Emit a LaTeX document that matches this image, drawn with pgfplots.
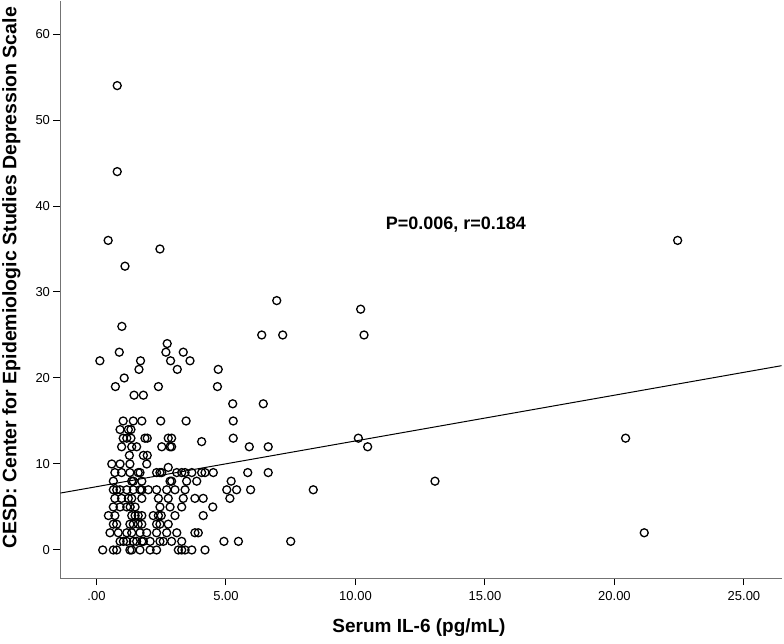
\documentclass[border=0pt]{standalone}
\usepackage{fontspec}
\setmainfont{Liberation Sans}
\usepackage{pgfplots}
\usepackage{pgfplotstable}
\pgfplotsset{compat=1.18}
\pgfplotstableread{
x y
0.80 54
0.80 44
0.45 36
1.10 33
2.45 35
22.44 36
6.96 29
10.20 28
0.98 26
6.38 25
7.19 25
10.33 25
2.73 24
0.88 23
2.68 23
3.35 23
0.13 22
1.70 22
2.86 22
3.61 22
1.64 21
3.12 21
4.70 21
1.07 20
0.73 19
2.39 19
4.67 19
1.45 18
1.81 18
5.26 17
6.44 17
1.03 15
1.42 15
1.75 15
2.48 15
3.46 15
5.28 15
0.91 14
1.23 14
1.33 14
1.03 13
1.17 13
1.33 13
1.87 13
1.96 13
2.77 13
2.90 13
5.28 13
10.11 13
20.43 13
4.06 12.6
0.97 12
1.36 12
1.55 12
2.52 12
2.84 12
2.90 12
5.90 12
6.63 12
10.47 12
1.27 11
1.81 11
1.96 11
0.59 10
0.91 10
1.29 10
1.94 10
2.77 9.6
0.71 9
0.97 9
1.29 9
1.61 9
1.68 9
2.32 9
2.45 9
2.52 9
3.10 9
3.29 9
3.42 9
3.68 9
4.06 9
4.19 9
4.51 9
5.84 9
6.63 9
0.65 8
1.36 8
1.42 8
1.75 8
2.84 8
2.90 8
3.48 8
3.87 8
5.20 8
13.07 8
0.65 7
0.78 7
0.91 7
1.17 7
1.42 7
1.68 7
1.75 7
2.00 7
2.32 7
2.71 7
3.03 7
3.42 7
5.03 7
5.41 7
5.95 7
8.37 7
0.71 6
0.97 6
1.23 6
1.36 6
1.75 6
2.39 6
2.77 6
3.35 6
3.80 6
4.12 6
5.15 6
0.65 5
0.91 5
1.17 5
1.30 5
1.49 5
2.45 5
2.84 5
3.29 5
4.49 5
0.46 4
0.71 4
1.36 4
1.49 4
1.61 4
1.75 4
2.19 4
2.39 4
2.50 4
3.03 4
4.12 4
0.65 3
0.78 3
1.29 3
1.42 3
1.61 3
1.75 3
2.32 3
2.45 3
2.77 3
0.52 2
0.84 2
1.17 2
1.36 2
1.68 2
1.94 2
2.32 2
2.71 2
3.10 2
3.80 2
3.93 2
21.15 2
0.91 1
1.04 1
1.17 1
1.42 1
1.55 1
1.75 1
1.81 1
2.07 1
2.45 1
2.58 1
2.90 1
3.29 1
4.92 1
5.48 1
7.50 1
0.24 0
0.65 0
0.78 0
1.29 0
1.36 0
1.68 0
2.07 0
2.32 0
3.16 0
3.29 0
3.42 0
3.68 0
4.19 0
}\datatable
\begin{document}
\begin{tikzpicture}
\begin{axis}[
  scale only axis, width=721pt, height=577pt,
  xmin=-1.39, xmax=26.45, ymin=-3.26, ymax=63.84,
  axis x line*=bottom, axis y line*=left,
  axis line style={draw=black!55, line width=1pt, -},
  tick align=outside, major tick length=7pt,
  tick style={black, line width=1pt},
  xtick={0,5,10,15,20,25},
  xticklabels={.00,5.00,10.00,15.00,20.00,25.00},
  ytick={0,10,20,30,40,50,60},
  /pgf/number format/assume math mode=true,
  tick label style={font=\fontsize{13}{13}\selectfont},
  xticklabel style={yshift=-3pt},
  xlabel={Serum IL-6 (pg/mL)},
  ylabel={CESD: Center for Epidemiologic Studies Depression Scale},
  xlabel style={font=\bfseries\fontsize{19}{19}\selectfont, at={(axis description cs:0.5,0)}, anchor=center, yshift=-50pt, xshift=-2pt},
  ylabel style={font=\bfseries\fontsize{19.5}{19.5}\selectfont, at={(axis description cs:0,0.52)}, anchor=center, yshift=49pt},
  clip=false,
]
\addplot[only marks, mark=o, mark size=4pt, mark options={line width=1.3pt, black}] table[x=x, y=y] {\datatable};
\addplot[black, line width=1pt] coordinates {(-1.39,6.62) (26.45,21.43)};
\node[font=\bfseries\fontsize{18}{18}\selectfont] at (axis cs:13.88,37.8) {P=0.006, r=0.184};
\end{axis}
\pgfresetboundingbox
\useasboundingbox (-60.5pt,-65pt) rectangle (723.5pt,578pt);
\end{tikzpicture}
\end{document}
